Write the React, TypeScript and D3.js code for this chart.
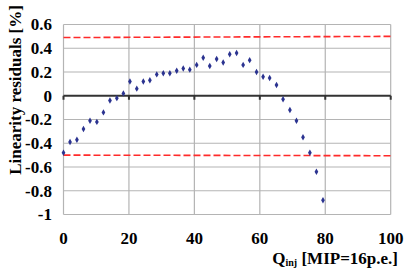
import React, { useEffect, useRef } from "react";
import * as d3 from "d3";

// residual points
const qValues = [
  0, 2, 4.1, 6.1, 8.1, 10.2, 12.2, 14.2, 16.3, 18.3,
  20.3, 22.4, 24.4, 26.4, 28.5, 30.5, 32.5, 34.6, 36.6, 38.6,
  40.7, 42.7, 44.7, 46.8, 48.8, 50.8, 52.9, 54.9, 56.9, 59.0,
  61.0, 63.0, 65.1, 67.1, 69.2, 71.2, 73.2, 75.3, 77.3, 79.3,
];
const residuals = [
  -0.48, -0.39, -0.37, -0.28, -0.21, -0.22, -0.14, -0.04, -0.02, 0.02,
  0.12, 0.06, 0.12, 0.13, 0.18, 0.19, 0.19, 0.21, 0.23, 0.22,
  0.26, 0.32, 0.25, 0.31, 0.28, 0.35, 0.36, 0.26, 0.3, 0.2,
  0.16, 0.15, 0.09, -0.03, -0.12, -0.21, -0.35, -0.48, -0.64, -0.88,
];
const upperLimit: [number, number][] = [[0, 0.49], [100, 0.5]];
const lowerLimit: [number, number][] = [[0, -0.5], [100, -0.505]];
const xTicks = [0, 20, 40, 60, 80, 100];
const yTicks = [0.6, 0.4, 0.2, 0, -0.2, -0.4, -0.6, -0.8, -1];

const font = "'Liberation Serif', 'Times New Roman', serif";

export default function App() {
  const svgRef = useRef<SVGSVGElement>(null);

  useEffect(() => {
    const svg = d3.select(svgRef.current);
    svg.selectAll("*").remove();

    const x = d3.scaleLinear().domain([0, 100]).range([63.5, 390.7]);
    const y = d3.scaleLinear().domain([-1, 0.6]).range([214.5, 24.5]);

    // grid
    svg.append("g")
      .selectAll("line")
      .data(yTicks.filter(d => d !== 0))
      .join("line")
      .attr("x1", x(0)).attr("x2", x(100))
      .attr("y1", d => y(d)).attr("y2", d => y(d))
      .attr("stroke", "#b4b4b4").attr("stroke-width", 1.2);
    svg.append("g")
      .selectAll("line")
      .data(xTicks)
      .join("line")
      .attr("x1", d => x(d)).attr("x2", d => x(d))
      .attr("y1", y(0.6)).attr("y2", y(-1))
      .attr("stroke", "#b4b4b4").attr("stroke-width", 1.2);

    // zero axis with ticks
    svg.append("line")
      .attr("x1", x(0)).attr("x2", x(100))
      .attr("y1", y(0)).attr("y2", y(0))
      .attr("stroke", "#333").attr("stroke-width", 2);
    svg.append("g")
      .selectAll("line")
      .data(xTicks)
      .join("line")
      .attr("x1", d => x(d)).attr("x2", d => x(d))
      .attr("y1", y(0)).attr("y2", y(0) + 4)
      .attr("stroke", "#333").attr("stroke-width", 2);

    // limit lines
    const line = d3.line<[number, number]>().x(d => x(d[0])).y(d => y(d[1]));
    [upperLimit, lowerLimit].forEach(lim => {
      svg.append("path")
        .attr("d", line(lim))
        .attr("fill", "none")
        .attr("stroke", "#ff2a2a")
        .attr("stroke-width", 1.6)
        .attr("stroke-dasharray", "7,3");
    });

    // points
    const sym = d3.symbol().type(d3.symbolDiamond).size(12);
    svg.append("g")
      .selectAll("path")
      .data(qValues.map((q, i) => [q, residuals[i]]))
      .join("path")
      .attr("d", sym)
      .attr("transform", d => `translate(${x(d[0])},${y(d[1])})`)
      .attr("fill", "#2b3390");

    // tick labels
    svg.append("g")
      .selectAll("text")
      .data(yTicks)
      .join("text")
      .attr("x", 52)
      .attr("y", d => y(d))
      .attr("dy", "0.35em")
      .attr("text-anchor", "end")
      .attr("font-family", font)
      .attr("font-weight", "bold")
      .attr("font-size", 17)
      .text(d => String(d));
    svg.append("g")
      .selectAll("text")
      .data(xTicks)
      .join("text")
      .attr("x", d => x(d))
      .attr("y", 244)
      .attr("text-anchor", "middle")
      .attr("font-family", font)
      .attr("font-weight", "bold")
      .attr("font-size", 17)
      .text(d => d);

    // axis titles
    const xt = svg.append("text")
      .attr("x", 398)
      .attr("y", 264)
      .attr("text-anchor", "end")
      .attr("font-family", font)
      .attr("font-weight", "bold")
      .attr("font-size", 17);
    xt.append("tspan").text("Q");
    xt.append("tspan").attr("font-size", 10).attr("dy", 2).text("inj");
    xt.append("tspan").attr("dy", -2).text(" [MIP=16p.e.]");

    svg.append("text")
      .attr("transform", "translate(21,90) rotate(-90)")
      .attr("text-anchor", "middle")
      .attr("font-family", font)
      .attr("font-weight", "bold")
      .attr("font-size", 17)
      .text("Linearity residuals [%]");
  }, []);

  return (
    <svg
      ref={svgRef}
      width={409}
      height={280}
      style={{ position: "fixed", left: 0, top: 0, background: "#fff" }}
    />
  );
}
